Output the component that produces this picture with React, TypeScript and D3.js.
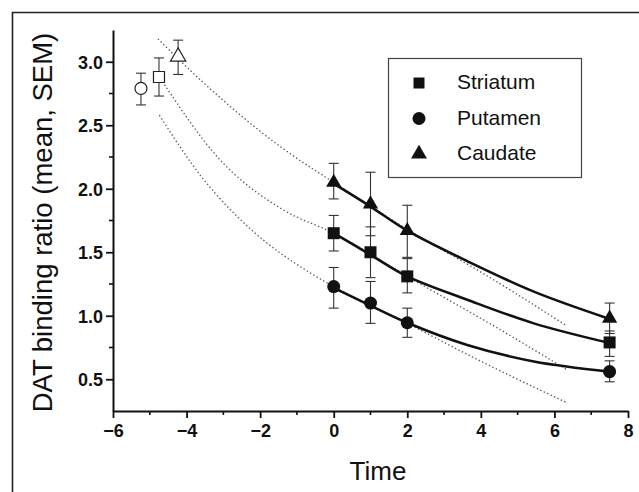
import { useEffect, useRef } from "react";
import * as d3 from "d3";

// measured time points (filled markers)
const times = [0, 1, 2, 7.5];

const caudateMean = [2.05, 1.88, 1.67, 0.98];
const caudateHi = [2.2, 2.13, 1.87, 1.1];
const caudateLo = [1.92, 1.63, 1.46, 0.86];

const striatumMean = [1.65, 1.5, 1.31, 0.79];
const striatumHi = [1.79, 1.7, 1.45, 0.88];
const striatumLo = [1.51, 1.3, 1.18, 0.68];

const putamenMean = [1.23, 1.1, 0.945, 0.56];
const putamenHi = [1.38, 1.27, 1.06, 0.645];
const putamenLo = [1.06, 0.94, 0.83, 0.48];

// baseline (open markers)
const baseTimes = [-5.24, -4.75, -4.23];
const baseMean = [2.79, 2.88, 3.04];
const baseHi = [2.91, 3.03, 3.17];
const baseLo = [2.66, 2.73, 2.9];
const baseShapes = ["circle", "square", "triangle"];

// solid fit curves
const fitTimes = [0, 1, 2, 3.63, 5.44, 7.5];
const caudateFit = [2.04, 1.86, 1.67, 1.43, 1.19, 0.975];
const striatumFit = [1.65, 1.48, 1.31, 1.126, 0.94, 0.785];
const putamenFit = [1.22, 1.08, 0.945, 0.77, 0.64, 0.56];

// dotted extrapolation curves
const caudateDotT = [-4.78, -3.56, -1.35, 0, 2, 4.08, 6.34];
const caudateDotY = [3.18, 2.84, 2.31, 2.05, 1.68, 1.33, 0.92];
const striatumDotT = [-4.6, -3.16, -1.35, 0, 2, 4.53, 6.34];
const striatumDotY = [2.82, 2.25, 1.83, 1.65, 1.31, 0.89, 0.575];
const putamenDotT = [-4.74, -3.61, -2.25, -0.71, 0, 2, 4.08, 6.34];
const putamenDotY = [2.58, 2.1, 1.68, 1.35, 1.23, 0.94, 0.63, 0.315];

const xTicks = [-6, -4, -2, 0, 2, 4, 6, 8];
const xMinor = [-5, -3, -1, 1, 3, 5, 7];
const yTicks = [0.5, 1.0, 1.5, 2.0, 2.5, 3.0];
const yMinor = [0.75, 1.25, 1.75, 2.25, 2.75];

const legendNames = ["Striatum", "Putamen", "Caudate"];
const legendShapes = ["square", "circle", "triangle"];

const FONT = "'Liberation Sans', Arial, Helvetica, sans-serif";

const symbolFor = (shape: string) =>
    shape === "square" ? d3.symbolSquare : shape === "circle" ? d3.symbolCircle : d3.symbolTriangle;
const sizeFor = (shape: string) => (shape === "square" ? 144 : shape === "circle" ? 133 : 100);

export default function App() {
    const ref = useRef<SVGSVGElement>(null);

    useEffect(() => {
        const width = 639;
        const height = 492;
        const svg = d3.select(ref.current);
        svg.selectAll("*").remove();

        svg.append("rect").attr("width", width).attr("height", height).attr("fill", "#fff");

        // outer frame (only left and top edges are in view)
        svg.append("path")
            .attr("d", `M12.5,${height} L12.5,12.5 L${width},12.5`)
            .attr("fill", "none")
            .attr("stroke", "#222")
            .attr("stroke-width", 1.6);

        const x = d3.scaleLinear().domain([-6, 8]).range([113, 628]);
        const y = d3.scaleLinear().domain([0.25, 3.25]).range([411, 30]);

        // axes
        const xAxis = svg.append("g")
            .attr("transform", `translate(0, ${y(0.25)})`)
            .call(d3.axisBottom(x).tickValues(xTicks).tickSize(7).tickSizeOuter(0).tickPadding(6).tickFormat(d3.format("d")));
        const yAxis = svg.append("g")
            .attr("transform", `translate(${x(-6)}, 0)`)
            .call(d3.axisLeft(y).tickValues(yTicks).tickSize(7).tickSizeOuter(0).tickPadding(3).tickFormat(d3.format(".1f")));

        [xAxis, yAxis].forEach((g) => {
            g.select(".domain").attr("stroke", "#111").attr("stroke-width", 2);
            g.selectAll(".tick line").attr("stroke", "#111").attr("stroke-width", 1.8);
            g.selectAll("text")
                .attr("font-family", FONT)
                .attr("font-size", 18)
                .attr("font-weight", "bold")
                .attr("fill", "#111");
        });
        yAxis.selectAll("text").attr("dy", "0.36em");

        svg.append("g").selectAll("line").data(xMinor).enter().append("line")
            .attr("x1", (d) => x(d)).attr("x2", (d) => x(d))
            .attr("y1", y(0.25)).attr("y2", y(0.25) + 4)
            .attr("stroke", "#111").attr("stroke-width", 1.6);
        svg.append("g").selectAll("line").data(yMinor).enter().append("line")
            .attr("y1", (d) => y(d)).attr("y2", (d) => y(d))
            .attr("x1", x(-6)).attr("x2", x(-6) - 4)
            .attr("stroke", "#111").attr("stroke-width", 1.6);

        // axis titles
        svg.append("text")
            .attr("transform", `translate(52, 222.5) rotate(-90)`)
            .attr("text-anchor", "middle")
            .attr("font-family", FONT)
            .attr("font-size", 27.5)
            .attr("fill", "#111")
            .text("DAT binding ratio (mean, SEM)");
        svg.append("text")
            .attr("x", 378)
            .attr("y", 480)
            .attr("text-anchor", "middle")
            .attr("font-family", FONT)
            .attr("font-size", 26)
            .attr("fill", "#111")
            .text("Time");

        // dotted extrapolations
        const curveLine = d3.line<[number, number]>()
            .curve(d3.curveMonotoneX)
            .x((d) => x(d[0]))
            .y((d) => y(d[1]));
        [
            [caudateDotT, caudateDotY],
            [striatumDotT, striatumDotY],
            [putamenDotT, putamenDotY],
        ].forEach(([ts, vs]) => {
            svg.append("path")
                .datum(ts.map((t, i) => [t, vs[i]] as [number, number]))
                .attr("fill", "none")
                .attr("stroke", "#555")
                .attr("stroke-width", 1.3)
                .attr("stroke-dasharray", "1.4 2.4")
                .attr("d", curveLine);
        });

        // solid fits
        const fitLine = d3.line<[number, number]>()
            .curve(d3.curveCatmullRom)
            .x((d) => x(d[0]))
            .y((d) => y(d[1]));
        [caudateFit, striatumFit, putamenFit].forEach((vs) => {
            svg.append("path")
                .datum(fitTimes.map((t, i) => [t, vs[i]] as [number, number]))
                .attr("fill", "none")
                .attr("stroke", "#111")
                .attr("stroke-width", 2.6)
                .attr("d", fitLine);
        });

        // error bars
        const drawErr = (g: d3.Selection<SVGGElement, unknown, null, undefined>, t: number, lo: number, hi: number) => {
            const cx = x(t);
            g.append("line").attr("x1", cx).attr("x2", cx).attr("y1", y(lo)).attr("y2", y(hi));
            g.append("line").attr("x1", cx - 5).attr("x2", cx + 5).attr("y1", y(lo)).attr("y2", y(lo));
            g.append("line").attr("x1", cx - 5).attr("x2", cx + 5).attr("y1", y(hi)).attr("y2", y(hi));
        };
        const errG = svg.append("g").attr("stroke", "#333").attr("stroke-width", 1.1);

        const series = [
            { shape: "triangle", mean: caudateMean, lo: caudateLo, hi: caudateHi },
            { shape: "square", mean: striatumMean, lo: striatumLo, hi: striatumHi },
            { shape: "circle", mean: putamenMean, lo: putamenLo, hi: putamenHi },
        ];
        series.forEach((s) => times.forEach((t, i) => drawErr(errG, t, s.lo[i], s.hi[i])));
        baseTimes.forEach((t, i) => drawErr(errG, t, baseLo[i], baseHi[i]));

        // filled markers
        series.forEach((s) => {
            svg.append("g").selectAll("path").data(times).enter().append("path")
                .attr("transform", (t, i) => `translate(${x(t)}, ${y(s.mean[i])})`)
                .attr("d", d3.symbol().type(symbolFor(s.shape)).size(sizeFor(s.shape))())
                .attr("fill", "#111");
        });

        // open baseline markers
        svg.append("g").selectAll("path").data(baseTimes).enter().append("path")
            .attr("transform", (t, i) => `translate(${x(t)}, ${y(baseMean[i])})`)
            .attr("d", (t, i) => d3.symbol().type(symbolFor(baseShapes[i])).size(baseShapes[i] === "square" ? 121 : baseShapes[i] === "circle" ? 113 : 100)())
            .attr("fill", "#fff")
            .attr("stroke", "#222")
            .attr("stroke-width", 1.2);

        // legend
        const legend = svg.append("g");
        legend.append("rect")
            .attr("x", 388.5).attr("y", 58.5).attr("width", 193).attr("height", 119)
            .attr("fill", "#fff").attr("stroke", "#444").attr("stroke-width", 1.2);
        legendNames.forEach((name, i) => {
            const cy = 83 + i * 35.5;
            legend.append("path")
                .attr("transform", `translate(419, ${cy})`)
                .attr("d", d3.symbol().type(symbolFor(legendShapes[i])).size(legendShapes[i] === "square" ? 121 : legendShapes[i] === "circle" ? 133 : 110)())
                .attr("fill", "#111");
            legend.append("text")
                .attr("x", 457)
                .attr("y", cy + 6)
                .attr("font-family", FONT)
                .attr("font-size", 21)
                .attr("fill", "#111")
                .text(name);
        });
    }, []);

    return (
        <svg ref={ref} width={639} height={492} style={{ position: "absolute", left: 0, top: 0, display: "block" }} />
    );
}
